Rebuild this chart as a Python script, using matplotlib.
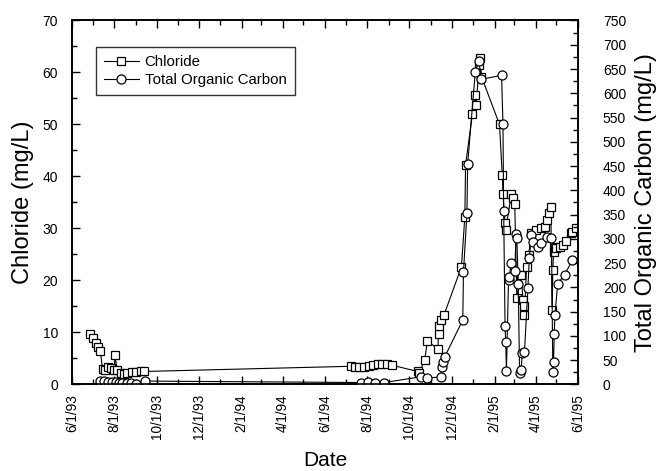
import matplotlib
matplotlib.use('Agg')
import matplotlib.pyplot as plt
import matplotlib.dates as mdates
from matplotlib.ticker import MultipleLocator, FuncFormatter
import pandas as pd

plt.rcParams['font.family'] = ['Liberation Sans', 'DejaVu Sans']

# Chloride (mg/L), left axis
cl_dates = [
    '1993-06-27', '1993-07-01', '1993-07-05', '1993-07-08', '1993-07-12',
    '1993-07-15', '1993-07-18', '1993-07-23', '1993-07-27', '1993-08-01',
    '1993-08-02', '1993-08-05', '1993-08-10', '1993-08-15', '1993-08-20',
    '1993-08-27', '1993-09-02', '1993-09-08', '1993-09-13',
    '1994-07-09', '1994-07-14', '1994-07-20', '1994-07-28', '1994-08-04',
    '1994-08-10', '1994-08-16', '1994-08-23', '1994-08-29', '1994-09-06',
    '1994-10-13', '1994-10-15', '1994-10-23', '1994-10-27', '1994-11-11',
    '1994-11-12', '1994-11-13', '1994-11-16', '1994-11-20', '1994-12-15',
    '1994-12-20', '1994-12-21', '1994-12-31', '1995-01-03', '1995-01-05',
    '1995-01-10', '1995-01-11', '1995-01-13', '1995-02-08', '1995-02-12',
    '1995-02-13', '1995-02-16', '1995-02-17', '1995-02-25', '1995-02-27',
    '1995-03-02', '1995-03-05', '1995-03-11', '1995-03-14', '1995-03-15',
    '1995-03-16', '1995-03-19', '1995-03-22', '1995-03-26', '1995-04-02',
    '1995-04-09', '1995-04-15', '1995-04-18', '1995-04-21', '1995-04-23',
    '1995-04-25', '1995-04-26', '1995-04-27', '1995-04-28', '1995-05-01',
    '1995-05-06', '1995-05-10', '1995-05-15', '1995-05-22', '1995-05-24',
    '1995-05-30',
]
cl_values = [
    9.7, 8.9, 8.0, 7.3, 6.4,
    2.9, 2.8, 3.4, 3.1, 2.7,
    5.7, 2.8, 2.2, 2.0, 2.3,
    2.4, 2.4, 2.5, 2.5,
    3.5, 3.4, 3.3, 3.4, 3.5,
    3.7, 3.9, 3.9, 3.9, 3.7,
    2.5, 2.2, 4.7, 8.4, 6.8,
    9.7, 11.2, 12.4, 13.4, 22.6,
    32.3, 42.2, 52.1, 55.6, 53.8,
    61.4, 62.7, 59.2, 50.0, 40.2,
    36.6, 31.1, 29.7, 36.6, 35.8,
    34.7, 16.6, 21.1, 16.3, 15.0,
    13.4, 22.5, 24.9, 29.1, 29.7,
    30.0, 30.3, 31.6, 32.9, 34.2,
    14.3, 22.0, 25.5, 26.5, 26.2,
    26.5, 26.8, 27.5, 29.1, 29.4,
    30.0,
]

# Total organic carbon (mg/L), right axis
toc_dates = [
    '1993-07-11', '1993-07-17', '1993-07-23', '1993-07-28', '1993-08-03',
    '1993-08-08', '1993-08-12', '1993-08-19', '1993-08-25', '1993-09-01',
    '1993-09-15',
    '1994-07-23', '1994-08-02', '1994-08-13', '1994-08-26',
    '1994-10-18', '1994-10-27', '1994-11-16', '1994-11-17', '1994-11-18',
    '1994-11-21', '1994-12-17', '1994-12-18', '1994-12-23', '1994-12-24',
    '1995-01-04', '1995-01-09', '1995-01-13', '1995-02-11', '1995-02-13',
    '1995-02-14', '1995-02-16', '1995-02-17', '1995-02-18', '1995-02-21',
    '1995-02-22', '1995-02-25', '1995-03-02', '1995-03-04', '1995-03-05',
    '1995-03-07', '1995-03-09', '1995-03-11', '1995-03-13', '1995-03-16',
    '1995-03-21', '1995-03-23', '1995-03-26', '1995-03-28', '1995-04-05',
    '1995-04-09', '1995-04-18', '1995-04-24', '1995-04-26', '1995-04-27',
    '1995-04-28', '1995-04-29', '1995-05-03', '1995-05-13', '1995-05-24',
]
toc_values = [
    8, 7, 6, 5, 5,
    4, 4, 3, 3, 1,
    7,
    4, 5, 4, 4,
    16, 13, 16, 37, 47,
    57, 133, 232, 353, 454,
    643, 667, 629, 637, 536,
    358, 120, 87, 28, 215,
    222, 251, 234, 311, 301,
    208, 24, 30, 64, 66,
    198, 260, 308, 294, 284,
    291, 304, 301, 26, 47,
    105, 143, 208, 226, 256,
]

cl_x = pd.to_datetime(cl_dates)
toc_x = pd.to_datetime(toc_dates)

fig = plt.figure(figsize=(6.62, 4.71), dpi=100)
ax = fig.add_axes([0.1088, 0.1837, 0.7640, 0.7728])
ax2 = ax.twinx()

ax.plot(cl_x, cl_values, color='black', lw=0.8, marker='s', ms=6,
        mfc='white', mec='black', mew=0.9, label='Chloride')
ax2.plot(toc_x, toc_values, color='black', lw=0.8, marker='o', ms=6.5,
         mfc='white', mec='black', mew=0.9, label='Total Organic Carbon')

ax.set_xlim(pd.Timestamp('1993-06-01'), pd.Timestamp('1995-06-01'))
ax.set_ylim(0, 70)
ax2.set_ylim(0, 750)

ax.xaxis.set_major_locator(mdates.MonthLocator(bymonth=[2, 4, 6, 8, 10, 12]))
ax.xaxis.set_minor_locator(mdates.MonthLocator())
ax.xaxis.set_major_formatter(FuncFormatter(
    lambda v, pos: (lambda d: f'{d.month}/{d.day}/{d.year % 100:02d}')(mdates.num2date(v))))
ax.yaxis.set_major_locator(MultipleLocator(10))
ax.yaxis.set_minor_locator(MultipleLocator(5))
ax2.yaxis.set_major_locator(MultipleLocator(50))
ax2.yaxis.set_minor_locator(MultipleLocator(25))

for lab in ax.get_xticklabels():
    lab.set_rotation(90)

ax.tick_params(axis='x', which='both', direction='in', top=True, labelsize=9.8, pad=7)
ax.tick_params(axis='y', which='both', direction='in', labelsize=10, pad=10)
ax.tick_params(which='major', length=6, width=1)
ax.tick_params(which='minor', length=3.5, width=1)
ax2.tick_params(axis='y', which='both', direction='in', labelsize=10, pad=18)
ax2.tick_params(which='major', length=6, width=1)
ax2.tick_params(which='minor', length=3.5, width=1)

for a in (ax, ax2):
    for s in a.spines.values():
        s.set_linewidth(1.2)

ax.set_xlabel('Date', fontsize=15, labelpad=8)
ax.set_ylabel('Chloride (mg/L)', fontsize=17, labelpad=6)
ax2.set_ylabel('Total Organic Carbon (mg/L)', fontsize=17, labelpad=6)

h1, l1 = ax.get_legend_handles_labels()
h2, l2 = ax2.get_legend_handles_labels()
leg = ax2.legend(h1 + h2, l1 + l2, loc='upper left', bbox_to_anchor=(0.047, 0.927),
                 borderaxespad=0, fontsize=10.8, frameon=True, fancybox=False,
                 edgecolor='black', handlelength=2.3, borderpad=0.55,
                 labelspacing=0.25, handletextpad=0.4)
leg.get_frame().set_linewidth(1.0)

fig.savefig('out.png', dpi=100)
